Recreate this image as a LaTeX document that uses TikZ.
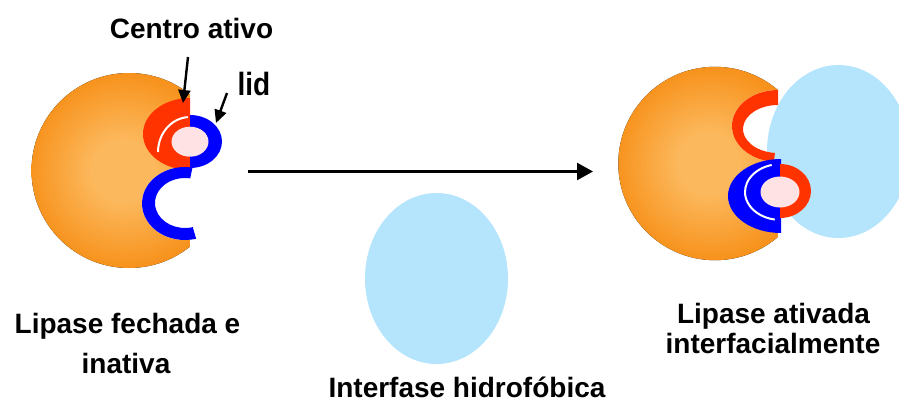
\documentclass[tikz,border=0pt]{standalone}
\usepackage{fontspec}
\setmainfont{Liberation Sans}
\usetikzlibrary{arrows.meta,calc}

\definecolor{orL}{RGB}{252,184,92}
\definecolor{orD}{RGB}{247,146,28}
\definecolor{lipred}{RGB}{255,51,0}
\definecolor{lidblue}{RGB}{0,0,255}
\definecolor{pocket}{RGB}{255,226,228}
\definecolor{water}{RGB}{180,229,253}

% soft orange body of the enzyme
\pgfdeclareradialshading{orangeball}{\pgfpoint{-2bp}{0bp}}{%
  color(0bp)=(orL); color(8bp)=(orL); color(25bp)=(orD); color(50bp)=(orD)}

\tikzset{
  lbl/.style={font=\bfseries\fontsize{28}{30}\selectfont, inner sep=0pt, anchor=base},
  ptr/.style={line width=2.4pt, -{Triangle[length=13pt,width=12pt]}},
  mainarrow/.style={line width=2.5pt, -{Triangle[length=16pt,width=17pt]}},
  body/.style={shading=orangeball},
  gap/.style={white, line width=2pt},
}

\begin{document}
\begin{tikzpicture}[x=1pt,y=-1pt]
\useasboundingbox (0,0) rectangle (899,407);

% ---------- closed, inactive lipase ----------
\fill[body] (129,170.5) circle[radius=97.5];
\fill[white] (190,60) rectangle (240,280);
\fill[white] (185,203.5) ellipse[x radius=43, y radius=36.5];
% red crescent around the active site
\fill[lipred] (190,98) arc[start angle=270, end angle=90, x radius=47, y radius=36] -- cycle;
% lid: right half of the ring
\fill[lidblue] (190,115) arc[start angle=270, end angle=450, x radius=32, y radius=26.5] -- cycle;
\draw[gap] (187.8,117.1) arc[start angle=266, end angle=180, x radius=32, y radius=35];
\fill[pocket] (190,141.7) ellipse[x radius=18.5, y radius=15];
% blue C below
\fill[lidblue] ($(185,203.5)+(280:43 and 36.5)$)
  arc[start angle=280, end angle=75, x radius=43, y radius=36.5]
  -- ($(185,203)+(75:30 and 25)$)
  arc[start angle=75, end angle=280, x radius=30, y radius=25] -- cycle;

% ---------- hydrophobic interface ----------
\fill[water] (436.5,278.5) ellipse[x radius=71.5, y radius=85.5];

% ---------- interfacially activated lipase ----------
\fill[body] (715,163.5) circle[radius=96.7];
\fill[white] (778,55) rectangle (830,275);
\fill[white] (778,90) arc[start angle=270, end angle=90, x radius=46, y radius=36] -- cycle;
\fill[water] (838.5,151.5) ellipse[x radius=71.5, y radius=86.5];
% open red C
\fill[lipred] (778,90)
  arc[start angle=270, end angle=95, x radius=46, y radius=36]
  -- ($(778,129)+(95:35 and 24)$)
  arc[start angle=95, end angle=270, x radius=35, y radius=24] -- cycle;
% blue crescent of the opened lid
\fill[lidblue] (781,159) arc[start angle=270, end angle=90, x radius=53, y radius=37] -- cycle;
\fill[lipred] (780,164) arc[start angle=270, end angle=450, x radius=31, y radius=27] -- cycle;
\draw[gap] ($(781,192)+(255:36 and 28)$) arc[start angle=255, end angle=100, x radius=36, y radius=28];
\fill[pocket] (780,192) ellipse[x radius=19.5, y radius=15.5];

% ---------- labels ----------
\node[lbl] (centro) at (191.5,38) {Centro ativo};
\node[lbl, yscale=1.15] (lid) at (254,95) {lid};
\node[lbl] (fech1) at (127.5,333) {Lipase fechada e};
\node[lbl] (fech2) at (126,373) {inativa};
\node[lbl] (interf) at (467,397) {Interfase hidrofóbica};
\node[lbl] (ativ1) at (773.5,323) {Lipase ativada};
\node[lbl] (ativ2) at (773,353) {interfacialmente};

% ---------- pointers and reaction arrow ----------
\coordinate (caTail) at (188,57);
\coordinate (caTip) at (183,103);
\coordinate (lidTail) at (227,93);
\coordinate (lidTip) at (216,123);
\coordinate (start) at (248,171.5);
\coordinate (finish) at (593,171.5);
\draw[ptr] (caTail) -- (caTip);
\draw[ptr] (lidTail) -- (lidTip);
\draw[mainarrow] (start) -- (finish);
\end{tikzpicture}
\end{document}
